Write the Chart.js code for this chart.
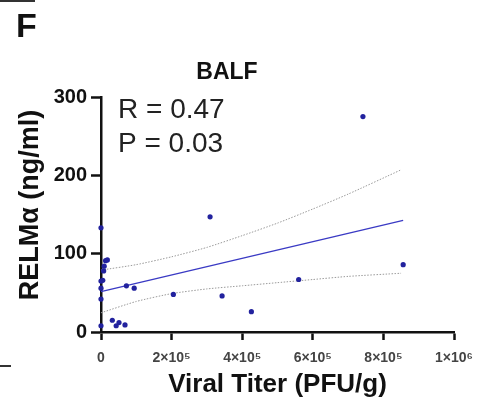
<!DOCTYPE html>
<html>
<head>
<meta charset="utf-8">
<script src="https://cdn.jsdelivr.net/npm/chart.js@4.4.0/dist/chart.umd.min.js"></script>
<style>
  html, body { margin: 0; padding: 0; background: #ffffff; }
  #wrap { width: 490px; height: 406px; position: relative; }
</style>
</head>
<body>
<div id="wrap"><canvas id="c" width="490" height="406"></canvas></div>
<script>
// ---- data ----
const titleText = 'BALF';
const panelLabel = 'F';
const xAxisTitle = 'Viral Titer (PFU/g)';
const yAxisTitle = 'RELMα (ng/ml)';
const statLines = ['R = 0.47', 'P = 0.03'];

const xValues = [742000, 309000, 856000, 560000, 343000, 426000, 205000, 72000, 94000,
                 32000, 43000, 51000, 68000,
                 0, 13000, 18000, 9000, 7500, 0, 5000, 0, 0, 0];
const yValues = [275, 147, 86, 67, 46, 26, 48, 59, 56,
                 15, 8, 12, 9,
                 133, 91, 92, 84, 78, 65, 66, 56, 42, 8];

const fitX = [0, 856000];
const fitY = [51.5, 142.5];

const bandX = [0, 100000, 200000, 300000, 400000, 500000, 600000, 700000, 850000];
const bandUpper = [79, 86, 96, 108, 123, 139, 157, 176, 207];
const bandLower = [24.5, 39, 49, 55, 59, 63, 67, 71, 75];

const xTickLabels = ['0', '2×10⁵', '4×10⁵', '6×10⁵', '8×10⁵', '1×10⁶'];
const yTickLabels = ['0', '100', '200', '300'];

// ---- build datasets ----
const pts = xValues.map((x, i) => ({ x: x, y: yValues[i] }));
const fitPts = fitX.map((x, i) => ({ x: x, y: fitY[i] }));
const upPts = bandX.map((x, i) => ({ x: x, y: bandUpper[i] }));
const loPts = bandX.map((x, i) => ({ x: x, y: bandLower[i] }));

const FONT = "'Liberation Sans', Arial, Helvetica, sans-serif";

const decor = {
  id: 'decor',
  afterDraw(chart) {
    const ctx = chart.ctx;
    ctx.save();
    // panel label
    ctx.fillStyle = '#111';
    ctx.textAlign = 'left';
    ctx.textBaseline = 'alphabetic';
    ctx.font = 'bold 34px ' + FONT;
    ctx.fillText(panelLabel, 16, 37);
    // stats
    ctx.font = '28px ' + FONT;
    ctx.fillStyle = '#222';
    ctx.fillText(statLines[0], 118, 118);
    ctx.fillText(statLines[1], 118, 152);
    // y axis title
    ctx.save();
    ctx.translate(31, 205);
    ctx.rotate(-Math.PI / 2);
    ctx.textAlign = 'center';
    ctx.textBaseline = 'middle';
    ctx.font = 'bold 27px ' + FONT;
    ctx.fillStyle = '#111';
    ctx.fillText(yAxisTitle, 0, 0);
    ctx.restore();
    // small edge marks
    ctx.strokeStyle = '#333';
    ctx.lineWidth = 2;
    ctx.beginPath();
    ctx.moveTo(0, 1); ctx.lineTo(35, 1);
    ctx.moveTo(0, 366); ctx.lineTo(11, 366);
    ctx.stroke();
    ctx.restore();
  }
};

new Chart(document.getElementById('c'), {
  type: 'scatter',
  data: {
    datasets: [
      {
        label: 'upper',
        type: 'line',
        data: upPts,
        borderColor: '#9a9a9a',
        borderWidth: 1,
        borderDash: [1.5, 1.5],
        pointRadius: 0,
        tension: 0.2,
        fill: false,
        clip: false,
        order: 3
      },
      {
        label: 'lower',
        type: 'line',
        data: loPts,
        borderColor: '#9a9a9a',
        borderWidth: 1,
        borderDash: [1.5, 1.5],
        pointRadius: 0,
        tension: 0.2,
        fill: false,
        clip: false,
        order: 3
      },
      {
        label: 'fit',
        type: 'line',
        data: fitPts,
        borderColor: '#3a3ac4',
        borderWidth: 1.3,
        pointRadius: 0,
        fill: false,
        clip: false,
        order: 2
      },
      {
        label: 'data',
        data: pts,
        backgroundColor: '#22229e',
        borderColor: '#22229e',
        borderWidth: 0,
        pointRadius: 2.6,
        clip: false,
        order: 1
      }
    ]
  },
  options: {
    responsive: false,
    animation: false,
    devicePixelRatio: 1,
    layout: { padding: { top: 59, right: 36, bottom: 0, left: 0 } },
    plugins: {
      legend: { display: false },
      tooltip: { enabled: false },
      title: {
        display: true,
        text: titleText,
        color: '#111',
        font: { family: FONT, size: 23, weight: 'bold' },
        padding: { top: 0, bottom: 10.4 }
      }
    },
    scales: {
      x: {
        type: 'linear',
        min: 0,
        max: 1000000,
        afterFit(s) { s.height = 74; },
        afterBuildTicks(s) {
          s.ticks = [0, 200000, 400000, 600000, 800000, 1000000].map(v => ({ value: v }));
        },
        ticks: {
          autoSkip: false,
          maxRotation: 0,
          padding: 10,
          color: '#444',
          font: { family: FONT, size: 14, weight: 'bold' },
          callback: (v, i) => xTickLabels[i]
        },
        grid: {
          display: true,
          drawOnChartArea: false,
          drawTicks: true,
          tickLength: 8,
          tickWidth: 2.5,
          tickColor: '#111'
        },
        border: { display: true, color: '#111', width: 2.5 },
        title: {
          display: true,
          text: xAxisTitle,
          color: '#111',
          font: { family: FONT, size: 26, weight: 'bold' },
          padding: { top: 0, bottom: 5.4 }
        }
      },
      y: {
        type: 'linear',
        min: 0,
        max: 300,
        afterFit(s) { s.width = 101; },
        afterBuildTicks(s) {
          s.ticks = [0, 100, 200, 300].map(v => ({ value: v }));
        },
        ticks: {
          padding: 4,
          color: '#111',
          font: { family: FONT, size: 20, weight: 'bold' },
          callback: (v, i) => yTickLabels[i]
        },
        grid: {
          display: true,
          drawOnChartArea: false,
          drawTicks: true,
          tickLength: 10,
          tickWidth: 2.5,
          tickColor: '#111'
        },
        border: { display: true, color: '#111', width: 2.5 }
      }
    }
  },
  plugins: [decor]
});
</script>
</body>
</html>
